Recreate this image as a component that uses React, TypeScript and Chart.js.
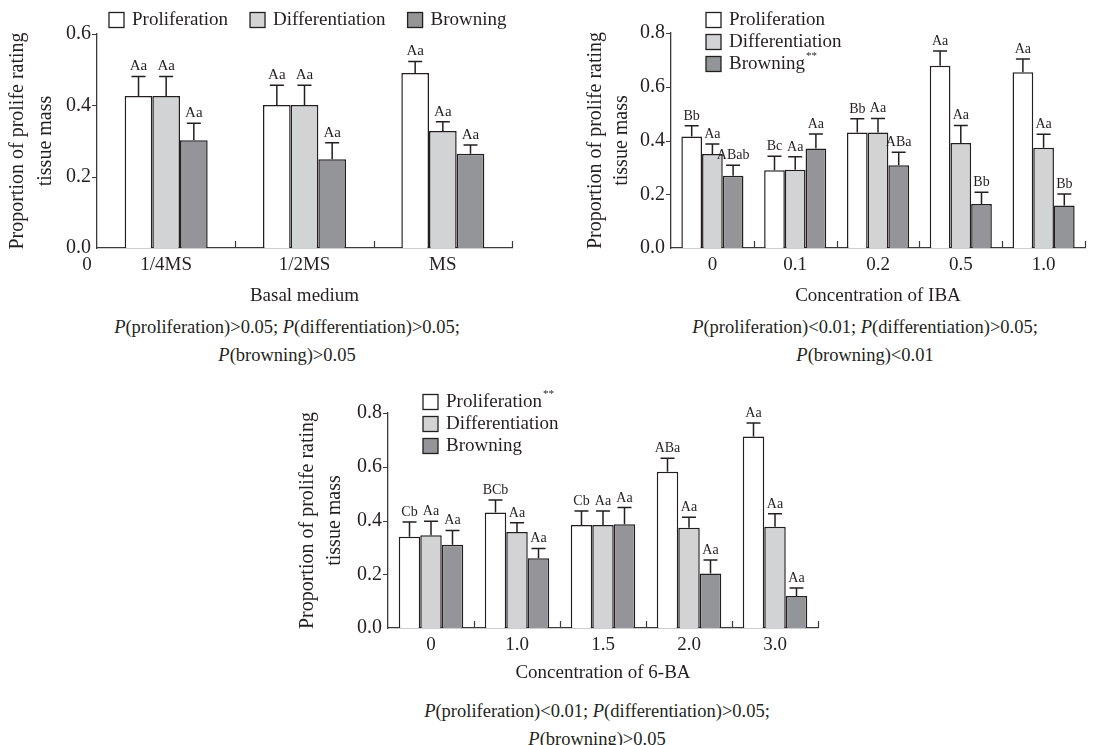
import React, { useEffect, useRef } from "react";
import { Chart, registerables } from "chart.js";

Chart.register(...registerables);

const FONT = '"Liberation Serif", "Times New Roman", serif';
const INK = "#231f20";
const AXIS = "#3a3a3a";

// shared series
const seriesNames = ["Proliferation", "Differentiation", "Browning"];
const seriesColors = ["#ffffff", "#d1d3d4", "#939598"];
const yTitleLines = ["Proportion of prolife rating", "tissue mass"];

// ---- Panel 1: basal medium ----
const mediumCategories = ["1/4MS", "1/2MS", "MS"];
const mediumProliferation = [0.426, 0.401, 0.491];
const mediumDifferentiation = [0.426, 0.401, 0.328];
const mediumBrowning = [0.302, 0.249, 0.264];
const mediumProliferationErr = [0.055, 0.055, 0.032];
const mediumDifferentiationErr = [0.055, 0.055, 0.026];
const mediumBrowningErr = [0.048, 0.046, 0.025];
const mediumProliferationLetters = ["Aa", "Aa", "Aa"];
const mediumDifferentiationLetters = ["Aa", "Aa", "Aa"];
const mediumBrowningLetters = ["Aa", "Aa", "Aa"];
const mediumLegendMarks = ["", "", ""];
const mediumYMax = 0.6;
const mediumXTitle = "Basal medium";
const mediumNote = ["P(proliferation)>0.05; P(differentiation)>0.05;", "P(browning)>0.05"];

// ---- Panel 2: IBA ----
const ibaCategories = ["0", "0.1", "0.2", "0.5", "1.0"];
const ibaProliferation = [0.415, 0.289, 0.43, 0.678, 0.654];
const ibaDifferentiation = [0.35, 0.291, 0.43, 0.391, 0.373];
const ibaBrowning = [0.269, 0.37, 0.308, 0.164, 0.158];
const ibaProliferationErr = [0.04, 0.052, 0.051, 0.055, 0.049];
const ibaDifferentiationErr = [0.037, 0.049, 0.052, 0.065, 0.05];
const ibaBrowningErr = [0.039, 0.054, 0.048, 0.043, 0.043];
const ibaProliferationLetters = ["Bb", "Bc", "Bb", "Aa", "Aa"];
const ibaDifferentiationLetters = ["Aa", "Aa", "Aa", "Aa", "Aa"];
const ibaBrowningLetters = ["ABab", "Aa", "ABa", "Bb", "Bb"];
const ibaLegendMarks = ["", "", "**"];
const ibaYMax = 0.8;
const ibaXTitle = "Concentration of IBA";
const ibaNote = ["P(proliferation)<0.01; P(differentiation)>0.05;", "P(browning)<0.01"];

// ---- Panel 3: 6-BA ----
const baCategories = ["0", "1.0", "1.5", "2.0", "3.0"];
const baProliferation = [0.34, 0.43, 0.383, 0.581, 0.713];
const baDifferentiation = [0.345, 0.357, 0.383, 0.373, 0.377];
const baBrowning = [0.31, 0.26, 0.386, 0.203, 0.119];
const baProliferationErr = [0.054, 0.046, 0.052, 0.051, 0.05];
const baDifferentiationErr = [0.052, 0.035, 0.052, 0.039, 0.048];
const baBrowningErr = [0.053, 0.036, 0.062, 0.05, 0.03];
const baProliferationLetters = ["Cb", "BCb", "Cb", "ABa", "Aa"];
const baDifferentiationLetters = ["Aa", "Aa", "Aa", "Aa", "Aa"];
const baBrowningLetters = ["Aa", "Aa", "Aa", "Aa", "Aa"];
const baLegendMarks = ["**", "", ""];
const baYMax = 0.8;
const baXTitle = "Concentration of 6-BA";
const baNote = ["P(proliferation)<0.01; P(differentiation)>0.05;", "P(browning)>0.05"];

const decorPlugin = {
  id: "decor",
  afterDatasetsDraw(chart: any, _args: any, opts: any) {
    const ctx = chart.ctx;
    const xs = chart.scales.x;
    const ys = chart.scales.y;
    ctx.save();
    // error bars + letters
    chart.data.datasets.forEach((ds: any, di: number) => {
      const meta = chart.getDatasetMeta(di);
      meta.data.forEach((bar: any, j: number) => {
        const v = ds.data[j];
        const e = ds.errors[j];
        const yErr = ys.getPixelForValue(v + e);
        ctx.strokeStyle = INK;
        ctx.lineWidth = 1.5;
        ctx.beginPath();
        ctx.moveTo(bar.x, bar.y);
        ctx.lineTo(bar.x, yErr);
        ctx.moveTo(bar.x - opts.cap / 2, yErr);
        ctx.lineTo(bar.x + opts.cap / 2, yErr);
        ctx.stroke();
        ctx.font = `${opts.letterSize}px ${FONT}`;
        ctx.fillStyle = INK;
        ctx.textAlign = "center";
        ctx.textBaseline = "alphabetic";
        ctx.fillText(ds.letters[j], bar.x, yErr - 6);
      });
    });
    // inward category ticks on x axis
    ctx.strokeStyle = AXIS;
    ctx.lineWidth = 1.2;
    const n = chart.data.labels.length;
    ctx.beginPath();
    for (let i = 1; i <= n; i++) {
      const px = Math.round(xs.left + ((xs.right - xs.left) * i) / n) + 0.5;
      ctx.moveTo(px, xs.top);
      ctx.lineTo(px, xs.top - 7);
    }
    // outward ticks on y axis
    ys.ticks.forEach((t: any) => {
      if (t.value === 0) return;
      const py = Math.round(ys.getPixelForValue(t.value)) + 0.5;
      ctx.moveTo(ys.right - 5, py);
      ctx.lineTo(ys.right, py);
    });
    ctx.stroke();
    // origin label
    if (opts.originLabel) {
      ctx.font = `19px ${FONT}`;
      ctx.fillStyle = INK;
      ctx.textAlign = "center";
      ctx.textBaseline = "middle";
      ctx.fillText(opts.originLabel, xs.left - 10, xs.top + 17);
    }
    // legend
    const lg = opts.legend;
    let bx = lg.x;
    let cy = lg.y;
    chart.data.datasets.forEach((ds: any, i: number) => {
      ctx.fillStyle = ds.backgroundColor;
      ctx.fillRect(bx, cy - 7.5, 15, 15);
      ctx.strokeStyle = INK;
      ctx.lineWidth = 1.3;
      ctx.strokeRect(bx, cy - 7.5, 15, 15);
      ctx.font = `19px ${FONT}`;
      ctx.fillStyle = INK;
      ctx.textAlign = "left";
      ctx.textBaseline = "middle";
      const tx = bx + 23;
      ctx.fillText(ds.label, tx, cy);
      const w = ctx.measureText(ds.label).width;
      const mark = lg.marks[i];
      if (mark) {
        ctx.font = `11px ${FONT}`;
        ctx.fillText(mark, tx + w + 1, cy - 8);
      }
      if (lg.mode === "row") {
        bx = tx + w + 22;
      } else {
        cy += lg.spacing;
      }
    });
    ctx.restore();
  },
};

type PanelProps = {
  left: number;
  top: number;
  width: number;
  height: number;
  categories: string[];
  values: number[][];
  errors: number[][];
  letters: string[][];
  yMax: number;
  xTitle: string;
  yAxisWidth: number;
  xAxisHeight: number;
  padRight: number;
  padTop: number;
  titleLH: number;
  titlePadTop: number;
  catPct: number;
  letterSize: number;
  legend: any;
  originLabel?: string;
};

function Panel(p: PanelProps) {
  const ref = useRef<HTMLCanvasElement | null>(null);
  useEffect(() => {
    if (!ref.current) return;
    const chart = new Chart(ref.current, {
      type: "bar",
      data: {
        labels: p.categories,
        datasets: p.values.map((v, i) => ({
          label: seriesNames[i],
          data: v,
          backgroundColor: seriesColors[i],
          borderColor: INK,
          borderWidth: 1.5,
          categoryPercentage: p.catPct,
          barPercentage: 1,
          errors: p.errors[i],
          letters: p.letters[i],
        })) as any,
      },
      options: {
        animation: false,
        responsive: false,
        devicePixelRatio: 1,
        layout: { padding: { left: 0, right: p.padRight, top: p.padTop, bottom: 2 } },
        scales: {
          x: {
            grid: { display: false, drawTicks: false },
            border: { display: true, color: AXIS, width: 1.3 },
            ticks: { font: { family: FONT, size: 19 }, color: INK, padding: 6, maxRotation: 0 },
            title: {
              display: true,
              text: p.xTitle,
              color: INK,
              font: { family: FONT, size: 19, lineHeight: "24px" },
              padding: 0,
            },
            afterFit: (s: any) => {
              s.height = p.xAxisHeight;
            },
          },
          y: {
            min: 0,
            max: p.yMax,
            grid: { display: false, drawTicks: false },
            border: { display: true, color: AXIS, width: 1.3 },
            ticks: {
              stepSize: 0.2,
              color: INK,
              padding: 6,
              font: { family: FONT, size: 20 },
              callback: (v: any) => Number(v).toFixed(1),
            },
            title: {
              display: true,
              text: yTitleLines,
              color: INK,
              font: { family: FONT, size: 20, lineHeight: `${p.titleLH}px` },
              padding: { top: p.titlePadTop, bottom: 0 },
            },
            afterFit: (s: any) => {
              s.width = p.yAxisWidth;
            },
          },
        },
        plugins: {
          legend: { display: false },
          tooltip: { enabled: false },
          decor: {
            cap: 14,
            letterSize: p.letterSize,
            legend: p.legend,
            originLabel: p.originLabel,
          },
        } as any,
      },
      plugins: [decorPlugin],
    } as any);
    return () => chart.destroy();
  }, []);
  return (
    <canvas
      ref={ref}
      width={p.width}
      height={p.height}
      style={{ position: "absolute", left: p.left, top: p.top, width: p.width, height: p.height }}
    />
  );
}

function Note({ lines, cx, top }: { lines: string[]; cx: number; top: number }) {
  const render = (s: string) =>
    s.split(/(P)(?=\()/).map((part, i) => (part === "P" ? <i key={i}>P</i> : <span key={i}>{part}</span>));
  return (
    <div
      style={{
        position: "absolute",
        left: cx - 260,
        top,
        width: 520,
        textAlign: "center",
        fontFamily: FONT,
        fontSize: 18.5,
        lineHeight: "28px",
        color: INK,
        whiteSpace: "nowrap",
      }}
    >
      {lines.map((l, i) => (
        <div key={i}>{render(l)}</div>
      ))}
    </div>
  );
}

export default function App() {
  return (
    <div style={{ position: "absolute", left: 0, top: 0, width: 1105, height: 745, background: "#fff", overflow: "hidden" }}>
      <Panel
        left={0}
        top={0}
        width={540}
        height={310}
        categories={mediumCategories}
        values={[mediumProliferation, mediumDifferentiation, mediumBrowning]}
        errors={[mediumProliferationErr, mediumDifferentiationErr, mediumBrowningErr]}
        letters={[mediumProliferationLetters, mediumDifferentiationLetters, mediumBrowningLetters]}
        yMax={mediumYMax}
        xTitle={mediumXTitle}
        yAxisWidth={97}
        xAxisHeight={60}
        padRight={28}
        padTop={34}
        titleLH={28}
        titlePadTop={4}
        catPct={0.6}
        letterSize={15}
        legend={{ mode: "row", x: 109, y: 20, spacing: 0, marks: mediumLegendMarks }}
        originLabel="0"
      />
      <Panel
        left={560}
        top={0}
        width={545}
        height={310}
        categories={ibaCategories}
        values={[ibaProliferation, ibaDifferentiation, ibaBrowning]}
        errors={[ibaProliferationErr, ibaDifferentiationErr, ibaBrowningErr]}
        letters={[ibaProliferationLetters, ibaDifferentiationLetters, ibaBrowningLetters]}
        yMax={ibaYMax}
        xTitle={ibaXTitle}
        yAxisWidth={111}
        xAxisHeight={60}
        padRight={20}
        padTop={33}
        titleLH={26}
        titlePadTop={23}
        catPct={0.75}
        letterSize={14}
        legend={{ mode: "column", x: 146, y: 20, spacing: 22, marks: ibaLegendMarks }}
      />
      <Panel
        left={290}
        top={380}
        width={540}
        height={307}
        categories={baCategories}
        values={[baProliferation, baDifferentiation, baBrowning]}
        errors={[baProliferationErr, baDifferentiationErr, baBrowningErr]}
        letters={[baProliferationLetters, baDifferentiationLetters, baBrowningLetters]}
        yMax={baYMax}
        xTitle={baXTitle}
        yAxisWidth={98}
        xAxisHeight={57}
        padRight={12}
        padTop={33}
        titleLH={27}
        titlePadTop={4.5}
        catPct={0.75}
        letterSize={14}
        legend={{ mode: "column", x: 133, y: 22, spacing: 22, marks: baLegendMarks }}
      />
      <Note lines={mediumNote} cx={287} top={313} />
      <Note lines={ibaNote} cx={865} top={313} />
      <Note lines={baNote} cx={597} top={697} />
    </div>
  );
}
